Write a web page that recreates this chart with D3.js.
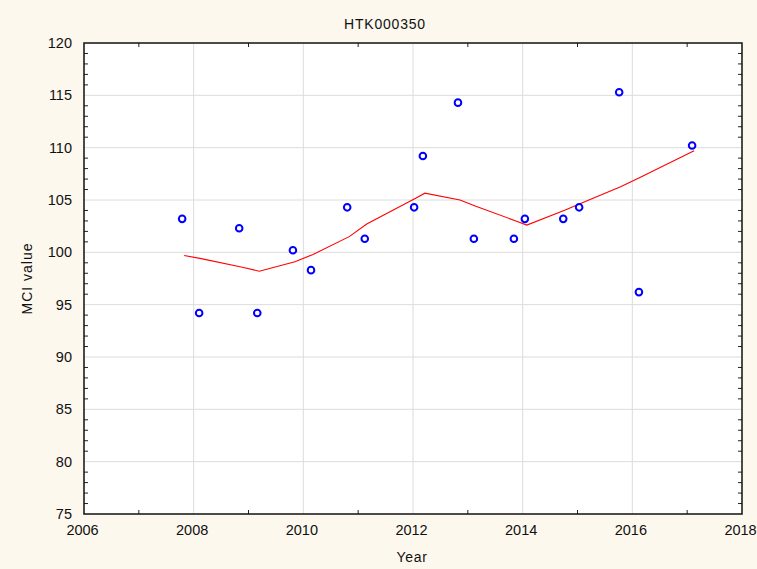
<!DOCTYPE html>
<html><head><meta charset="utf-8">
<script src="https://cdn.jsdelivr.net/npm/d3@7"></script>
<style>
html,body{margin:0;padding:0;background:#FDF8EE;}
text{font-family:"Liberation Sans",Arial,sans-serif;fill:#111;}
</style></head><body>
<svg id="c" width="757" height="569"></svg>
<script>
const title = "HTK000350";
const xLabel = "Year";
const yLabel = "MCI value";
const years = [2007.79,2008.10,2008.83,2009.16,2009.81,2010.14,2010.80,2011.12,2012.02,2012.18,2012.82,2013.11,2013.84,2014.04,2014.74,2015.03,2015.76,2016.12,2017.09];
const mci   = [103.2,94.2,102.3,94.2,100.2,98.3,104.3,101.3,104.3,109.2,114.3,101.3,101.3,103.2,103.2,104.3,115.3,96.2,110.2];
const fit   = [99.7,99.4,98.6,98.2,99.1,99.8,101.5,102.7,105.2,105.65,105.0,104.4,103.0,102.6,104.05,104.7,106.3,107.2,109.7];
const xTicks = [2006,2008,2010,2012,2014,2016,2018];
const yTicks = [75,80,85,90,95,100,105,110,115,120];

const svg = d3.select("#c");
const L=84, R=742, T=43, B=514;
const x = d3.scaleLinear().domain([2006,2018]).range([L,R]);
const y = d3.scaleLinear().domain([75,120]).range([B,T]);

svg.append("rect").attr("x",L).attr("y",T).attr("width",R-L).attr("height",B-T).attr("fill","#fff");

// grid
svg.append("g").selectAll("line").data(xTicks.slice(1,-1)).join("line")
  .attr("x1",d=>x(d)).attr("x2",d=>x(d)).attr("y1",T).attr("y2",B)
  .attr("stroke","#DCDCDC").attr("stroke-width",1);
svg.append("g").selectAll("line").data(yTicks.slice(1,-1)).join("line")
  .attr("y1",d=>y(d)).attr("y2",d=>y(d)).attr("x1",L).attr("x2",R)
  .attr("stroke","#DCDCDC").attr("stroke-width",1);

// minor ticks
const xMinor = d3.range(2007,2018,2);
const yMinor = d3.range(76,120).filter(v=>v%5!==0);
const tk = svg.append("g").attr("stroke","#222").attr("stroke-width",1);
xMinor.forEach(v=>{
  tk.append("line").attr("x1",x(v)).attr("x2",x(v)).attr("y1",B).attr("y2",B-4);
  tk.append("line").attr("x1",x(v)).attr("x2",x(v)).attr("y1",T).attr("y2",T+4);
});
yMinor.forEach(v=>{
  tk.append("line").attr("y1",y(v)).attr("y2",y(v)).attr("x1",L).attr("x2",L+4);
  tk.append("line").attr("y1",y(v)).attr("y2",y(v)).attr("x1",R).attr("x2",R-4);
});

// border
svg.append("rect").attr("x",L).attr("y",T).attr("width",R-L).attr("height",B-T)
  .attr("fill","none").attr("stroke","#111").attr("stroke-width",1.5);

// axes labels via d3 axes (no lines)
const xa = svg.append("g").attr("transform",`translate(-2,${B})`)
  .call(d3.axisBottom(x).tickValues(xTicks).tickFormat(d3.format("d")).tickSize(0).tickPadding(11));
xa.select(".domain").remove();
xa.selectAll("text").attr("font-size",14.5).attr("fill","#111").attr("font-family","Liberation Sans, Arial, sans-serif");
const ya = svg.append("g").attr("transform",`translate(${L},0)`)
  .call(d3.axisLeft(y).tickValues(yTicks).tickSize(0).tickPadding(12));
ya.select(".domain").remove();
ya.selectAll("text").attr("font-size",14.5).attr("fill","#111").attr("font-family","Liberation Sans, Arial, sans-serif");

// fit line
svg.append("path").datum(years.map((d,i)=>[d,fit[i]]))
  .attr("d",d3.line().x(d=>x(d[0])+2).y(d=>y(d[1])))
  .attr("fill","none").attr("stroke","#FF0000").attr("stroke-width",1.1);

// points
svg.append("g").selectAll("circle").data(years.map((d,i)=>[d,mci[i]])).join("circle")
  .attr("cx",d=>x(d[0])).attr("cy",d=>y(d[1])).attr("r",3.3)
  .attr("fill","none").attr("stroke","#0000FF").attr("stroke-width",2);

svg.append("text").attr("x",385).attr("y",29).attr("text-anchor","middle").attr("font-size",14).attr("letter-spacing","0.8px").text(title);
svg.append("text").attr("x",412).attr("y",562).attr("text-anchor","middle").attr("font-size",14).attr("letter-spacing","0.7px").text(xLabel);
svg.append("text").attr("transform",`translate(32,${(T+B)/2}) rotate(-90)`).attr("text-anchor","middle").attr("font-size",14).attr("letter-spacing","1px").text(yLabel);
</script>
</body></html>
